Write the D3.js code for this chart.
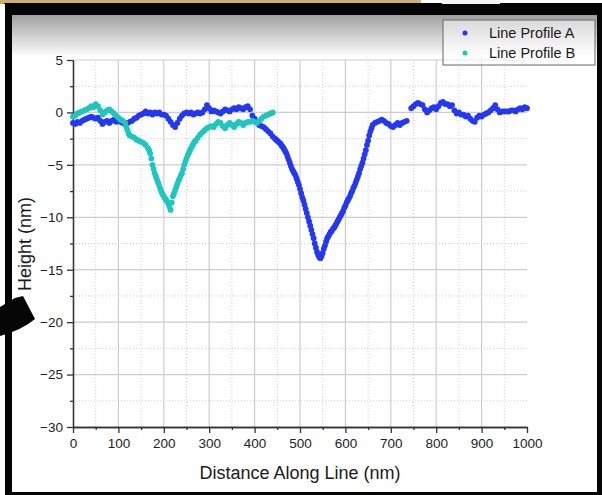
<!DOCTYPE html>
<html>
<head>
<meta charset="utf-8">
<script src="https://cdn.jsdelivr.net/npm/d3@7"></script>
<style>
  body { margin: 0; background: #fff; }
  svg { display: block; font-family: "Liberation Sans", Arial, sans-serif; }
</style>
</head>
<body>
<div id="chart"></div>
<script>
// Data: [distance (nm), height (nm)]
const profileA = [
  [0,-1.0],[5,-1.1],[10,-0.9],[15,-1.0],[20,-0.8],[25,-0.7],[30,-0.6],[35,-0.5],[40,-0.4],[45,-0.5],
  [50,-0.6],[55,-0.5],[60,-0.8],[65,-1.1],[70,-0.9],[75,-0.8],[80,-1.0],[85,-0.8],[90,-0.7],[95,-0.9],
  [100,-0.8],[105,-0.9],[110,-1.0],[115,-1.1],[120,-1.0],[125,-0.9],[130,-0.8],[135,-0.6],[140,-0.5],[145,-0.3],
  [150,-0.2],[155,-0.1],[160,0.1],[165,-0.1],[170,0.0],[175,-0.2],[180,0.0],[185,-0.1],[190,0.0],[195,-0.2],
  [200,-0.2],[205,-0.3],[210,-0.6],[215,-0.9],[220,-1.2],[225,-1.4],[230,-1.0],[235,-0.6],[240,-0.3],[245,-0.1],
  [250,0.0],[255,-0.1],[260,0.0],[265,-0.2],[270,-0.1],[275,0.0],[280,-0.1],[285,0.0],[290,0.3],[295,0.7],
  [300,0.4],[305,0.1],[310,0.2],[315,0.1],[320,0.0],[325,-0.1],[330,0.1],[335,0.3],[340,0.2],[345,0.1],
  [350,0.3],[355,0.4],[360,0.3],[365,0.5],[370,0.4],[375,0.3],[380,0.5],[385,0.6],[390,0.3],[395,-0.3],
  [400,-0.6],[405,-0.9],[410,-1.2],[415,-1.3],[420,-1.4],[425,-1.6],[430,-1.8],[435,-2.0],[440,-2.3],[445,-2.5],
  [447.5,-2.6],[450,-2.7],[452.5,-2.8],[455,-2.9],[457.5,-3.0],[460,-3.2],[462.5,-3.3],[465,-3.5],[467.5,-3.7],
  [470,-3.9],[472.5,-4.2],[475,-4.5],[477.5,-4.8],[480,-5.1],[482.5,-5.4],[485,-5.6],[487.5,-5.8],[490,-6.0],
  [492.5,-6.3],[495,-6.6],[497.5,-6.9],[500,-7.3],[502.5,-7.7],[505,-8.1],[507.5,-8.4],[510,-8.8],[512.5,-9.2],
  [515,-9.6],[517.5,-10.0],[520,-10.4],[522.5,-10.8],[525,-11.2],[527.5,-11.6],[530,-12.0],[532.5,-12.5],
  [535,-12.9],[537.5,-13.3],[540,-13.6],[542.5,-13.8],[545,-13.9],[547.5,-13.7],[550,-13.4],[552.5,-13.0],
  [555,-12.7],[557.5,-12.3],[560,-12.0],[562.5,-11.8],[565,-11.6],[567.5,-11.4],[570,-11.3],[572.5,-11.1],
  [575,-11.0],[577.5,-10.8],[580,-10.6],[582.5,-10.4],[585,-10.2],[587.5,-10.0],[590,-9.8],[592.5,-9.6],
  [595,-9.4],[597.5,-9.1],[600,-8.9],[602.5,-8.6],[605,-8.4],[607.5,-8.2],[610,-8.0],[612.5,-7.7],[615,-7.5],
  [617.5,-7.2],[620,-7.0],[622.5,-6.7],[625,-6.4],[627.5,-6.1],[630,-5.8],[632.5,-5.4],[635,-5.1],[637.5,-4.8],
  [640,-4.4],[642.5,-4.0],[645,-3.6],[647.5,-3.1],[650,-2.7],[652.5,-2.2],[655,-1.8],[657.5,-1.5],
  [660,-1.2],[665,-1.0],[670,-0.9],[675,-0.8],[680,-0.7],[685,-0.8],[690,-1.0],[695,-1.1],
  [700,-1.3],[705,-1.4],[710,-1.2],[715,-1.0],[720,-1.2],[725,-1.0],[730,-0.9],[735,-0.8],
  [745,0.4],[750,0.6],[755,0.8],[760,0.9],[765,0.8],[770,0.7],[775,0.3],[780,0.0],[785,0.2],[790,0.4],
  [795,0.5],[800,0.3],[805,0.6],[810,0.9],[815,1.0],[820,0.8],[825,0.8],[830,0.6],[835,0.7],[840,0.2],
  [845,-0.1],[850,0.0],[855,-0.2],[860,-0.2],[865,-0.4],[870,-0.3],[875,-0.6],[880,-0.8],[885,-0.9],[890,-0.5],
  [895,-0.3],[900,-0.4],[905,-0.2],[910,-0.1],[915,0.0],[920,0.2],[925,0.4],[930,0.7],[935,0.3],[940,0.0],
  [945,0.1],[950,0.1],[955,0.1],[960,0.1],[965,0.2],[970,0.2],[975,0.1],[980,0.3],[985,0.4],[990,0.3],
  [995,0.5],[1000,0.4]
];

const profileB = [
  [0,-0.4],[5,-0.3],[10,-0.1],[15,0.0],[20,0.1],[25,0.2],[30,0.3],[35,0.4],[40,0.6],[45,0.5],
  [50,0.8],[55,0.6],[60,0.2],[65,-0.2],[70,0.0],[75,0.2],[80,0.3],[85,0.1],[90,-0.1],[95,-0.3],
  [100,-0.5],[105,-0.7],[110,-0.8],[115,-1.0],[117.5,-1.4],[120,-1.7],[122.5,-2.0],[125,-2.2],[130,-2.3],
  [135,-2.4],[140,-2.6],[145,-2.7],[150,-2.8],[155,-2.9],[160,-3.1],[165,-3.4],[167.5,-3.6],[170,-3.9],
  [172.5,-4.4],[175,-5.0],[177.5,-5.4],[180,-5.8],[182.5,-6.1],[185,-6.4],[187.5,-6.7],[190,-7.0],[192.5,-7.3],
  [195,-7.6],[197.5,-7.8],[200,-8.0],[202.5,-8.2],[205,-8.3],[207.5,-8.5],[210,-8.7],[212.5,-9.0],[215,-9.3],
  [217.5,-8.6],[220,-8.0],[222.5,-7.7],[225,-7.4],[227.5,-7.1],[230,-6.8],[232.5,-6.5],[235,-6.3],[237.5,-6.0],
  [240,-5.8],[242.5,-5.4],[245,-5.0],[247.5,-4.7],[250,-4.4],[252.5,-4.1],[255,-3.9],[257.5,-3.6],[260,-3.4],
  [262.5,-3.2],[265,-3.0],[267.5,-2.8],[270,-2.7],[275,-2.4],[280,-2.1],[285,-1.9],[290,-1.7],[295,-1.5],
  [300,-1.4],[305,-1.3],[310,-1.4],[315,-1.1],[320,-0.9],[325,-1.0],[330,-1.3],[335,-1.5],[340,-1.2],[345,-1.0],
  [350,-1.2],[355,-1.4],[360,-1.1],[365,-0.9],[370,-1.0],[375,-1.2],[380,-1.0],[385,-0.9],[390,-0.9],[395,-0.8],
  [400,-0.9],[405,-1.0],[410,-0.8],[415,-0.6],[420,-0.4],[425,-0.3],[430,-0.2],[435,-0.1],[440,0.0]
];

const seriesNames = ["Line Profile A", "Line Profile B"];
const seriesColors = ["#2438f2", "#1ec6c0"];

const xMajor = [0, 100, 200, 300, 400, 500, 600, 700, 800, 900, 1000];
const xMinor = [50, 150, 250, 350, 450, 550, 650, 750, 850, 950];
const yMajor = [-30, -25, -20, -15, -10, -5, 0, 5];
const yMinor = [-27.5, -22.5, -17.5, -12.5, -7.5, -2.5, 2.5];

const W = 602, H = 495;
const plot = {left: 73, right: 527, top: 60, bottom: 427};

const svg = d3.select("#chart").append("svg")
    .attr("width", W)
    .attr("height", H);

// screenshot frame
const defs = svg.append("defs");
const grad = defs.append("linearGradient")
    .attr("id", "topfade").attr("x1", 0).attr("y1", 0).attr("x2", 0).attr("y2", 1);
grad.append("stop").attr("offset", "0%").attr("stop-color", "#a0a0a0");
grad.append("stop").attr("offset", "100%").attr("stop-color", "#ffffff");

svg.append("rect").attr("x", 0).attr("y", 0).attr("width", W).attr("height", H).attr("fill", "#ffffff");
svg.append("rect").attr("x", 0).attr("y", 0).attr("width", 421).attr("height", 4).attr("fill", "#cfae70");
svg.append("rect").attr("x", 4).attr("y", 3).attr("width", W - 4).attr("height", H - 3).attr("fill", "#050505");
svg.append("rect").attr("x", 442).attr("y", 0).attr("width", 58).attr("height", 4).attr("fill", "#f4f4f4");
svg.append("rect").attr("x", 12).attr("y", 15).attr("width", 585).attr("height", 477).attr("fill", "#ffffff");
svg.append("rect").attr("x", 12).attr("y", 15).attr("width", 585).attr("height", 42).attr("fill", "url(#topfade)");
svg.append("rect").attr("x", 0).attr("y", 4).attr("width", 5).attr("height", H - 4).attr("fill", "#ffffff");

const x = d3.scaleLinear().domain([0, 1000]).range([plot.left, plot.right]);
const y = d3.scaleLinear().domain([-30, 5]).range([plot.bottom, plot.top]);

// grid
const grid = svg.append("g");
grid.selectAll(".vminor").data(xMinor).enter().append("line")
    .attr("x1", d => x(d)).attr("x2", d => x(d))
    .attr("y1", plot.top).attr("y2", plot.bottom)
    .attr("stroke", "#d4d4d4").attr("stroke-dasharray", "1,2");
grid.selectAll(".hminor").data(yMinor).enter().append("line")
    .attr("x1", plot.left).attr("x2", plot.right)
    .attr("y1", d => y(d)).attr("y2", d => y(d))
    .attr("stroke", "#d4d4d4").attr("stroke-dasharray", "1,2");
grid.selectAll(".vmajor").data(xMajor.filter(d => d > 0 && d < 1000)).enter().append("line")
    .attr("x1", d => x(d)).attr("x2", d => x(d))
    .attr("y1", plot.top).attr("y2", plot.bottom)
    .attr("stroke", "#cdcdcd").attr("stroke-width", 1.2);
grid.selectAll(".hmajor").data(yMajor.filter(d => d > -30)).enter().append("line")
    .attr("x1", plot.left).attr("x2", plot.right)
    .attr("y1", d => y(d)).attr("y2", d => y(d))
    .attr("stroke", "#cdcdcd").attr("stroke-width", 1.2);

// axes
function styleAxis(g) {
  g.select(".domain").attr("stroke", "#333").attr("stroke-width", 1.3);
  g.selectAll(".tick line").attr("stroke", "#333").attr("stroke-width", 1.3);
  g.selectAll(".tick text").attr("fill", "#222").style("font-size", "13.5px");
}

svg.append("g")
    .attr("transform", "translate(0," + plot.bottom + ")")
    .call(d3.axisBottom(x).tickValues(xMinor).tickSize(3).tickFormat("").tickSizeOuter(0))
    .call(styleAxis);
svg.append("g")
    .attr("transform", "translate(0," + plot.bottom + ")")
    .call(d3.axisBottom(x).tickValues(xMajor).tickSize(6).tickPadding(5).tickSizeOuter(0).tickFormat(d3.format("d")))
    .call(styleAxis);

svg.append("g")
    .attr("transform", "translate(" + plot.left + ",0)")
    .call(d3.axisLeft(y).tickValues(yMinor).tickSize(3).tickFormat("").tickSizeOuter(0))
    .call(styleAxis);
svg.append("g")
    .attr("transform", "translate(" + plot.left + ",0)")
    .call(d3.axisLeft(y).tickValues(yMajor).tickSize(6).tickPadding(4).tickSizeOuter(0).tickFormat(d3.format("d")))
    .call(styleAxis);

// axis titles
svg.append("text")
    .attr("x", (plot.left + plot.right) / 2)
    .attr("y", 479)
    .attr("text-anchor", "middle")
    .style("font-size", "18px")
    .attr("fill", "#1a1a1a")
    .text("Distance Along Line (nm)");

svg.append("text")
    .attr("transform", "translate(31,244) rotate(-90)")
    .attr("text-anchor", "middle")
    .style("font-size", "18px")
    .attr("fill", "#1a1a1a")
    .text("Height (nm)");

// points
[profileA, profileB].forEach((data, i) => {
  svg.append("g").selectAll("circle")
      .data(data)
      .enter()
      .append("circle")
      .attr("cx", d => x(d[0]))
      .attr("cy", d => y(d[1]))
      .attr("r", 2.9)
      .attr("fill", seriesColors[i]);
});

// legend
svg.append("rect")
    .attr("x", 443).attr("y", 20).attr("width", 152).attr("height", 45)
    .attr("fill", "#ffffff").attr("fill-opacity", 0.55)
    .attr("stroke", "#666").attr("stroke-width", 1);
seriesNames.forEach((name, i) => {
  svg.append("circle")
      .attr("cx", 465).attr("cy", 33 + i * 20).attr("r", 2.5)
      .attr("fill", seriesColors[i]);
  svg.append("text")
      .attr("x", 489).attr("y", 38 + i * 20)
      .style("font-size", "14.5px")
      .attr("fill", "#1a1a1a")
      .text(name);
});

// black pointer at left edge
svg.append("path")
    .attr("d", "M0,307 L15,298 L23,296 L35,319 Q22,330 0,336 Z")
    .attr("fill", "#050505");
</script>
</body>
</html>
